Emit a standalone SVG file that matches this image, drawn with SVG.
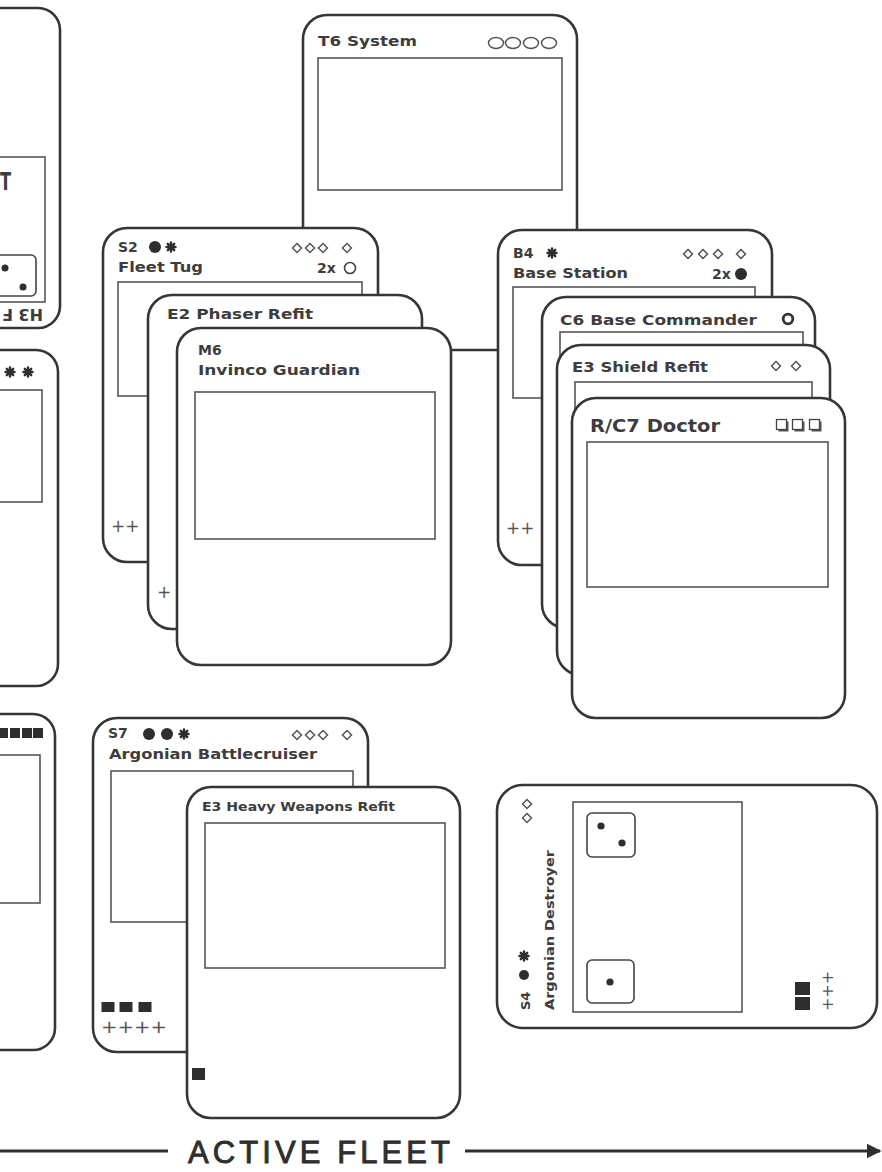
<svg xmlns="http://www.w3.org/2000/svg" width="882" height="1172" viewBox="0 0 882 1172">
<style>
.card{fill:#fff;stroke:#363636;stroke-width:2.6}
.art{fill:none;stroke:#555;stroke-width:1.6}
.t{font-family:"DejaVu Sans",sans-serif;font-weight:bold;font-size:14px;fill:#3d3d3d}
.pl{font-family:"DejaVu Sans",sans-serif;font-size:17px;fill:#555}
.ink{fill:#2e2e2e}
.dice{fill:#fff;stroke:#444;stroke-width:1.6}
</style>
<defs>
<path id="dia" d="M0,-4.5L4.5,0L0,4.5L-4.5,0Z" fill="none" stroke="#555" stroke-width="1.5"/>
<path id="star" d="M-4.5,0H4.5M0,-4.5V4.5M-3.2,-3.2L3.2,3.2M-3.2,3.2L3.2,-3.2" stroke="#2e2e2e" stroke-width="2.4" stroke-linecap="round"/>
<rect id="sq" x="-6.5" y="-5" width="13" height="10" fill="#2e2e2e"/>
<g id="osq"><rect x="-3.5" y="-3.5" width="10" height="10" fill="#555"/><rect x="-5.5" y="-5.5" width="10" height="10" fill="#fff" stroke="#444" stroke-width="1.3"/></g>
<marker id="ah" viewBox="0 0 10 10" refX="9" refY="5" markerWidth="5" markerHeight="5" orient="auto" markerUnits="strokeWidth"><path d="M0,0L10,5L0,10Z" fill="#2e2e2e"/></marker>
</defs>

<!-- left partial cards -->
<g id="card-h3">
<rect class="card" x="-200" y="8" width="260" height="320" rx="22"/>
<rect class="art" x="-60" y="157" width="105" height="145"/>
<text class="t" x="0" y="190" style="font-size:24px" textLength="11" lengthAdjust="spacingAndGlyphs">T</text>
<rect class="dice" x="-30" y="255" width="66" height="41" rx="5"/>
<circle class="ink" cx="5" cy="268" r="3.5"/>
<circle class="ink" cx="23" cy="287" r="3.5"/>
<text class="t" transform="translate(43,309) rotate(180)" style="font-size:16px">H3 F</text>
</g>
<g id="card-left-mid">
<rect class="card" x="-200" y="350" width="258" height="336" rx="22"/>
<rect class="art" x="-60" y="390" width="102" height="112"/>
<use href="#star" x="10" y="372"/>
<use href="#star" x="28" y="372"/>
</g>
<g id="card-left-low">
<rect class="card" x="-200" y="714" width="255" height="336" rx="22"/>
<rect class="art" x="-60" y="755" width="100" height="148"/>
<rect class="ink" x="-1" y="728" width="9" height="10"/>
<rect class="ink" x="10" y="728" width="10" height="10"/>
<rect class="ink" x="22" y="728" width="10" height="10"/>
<rect class="ink" x="33" y="728" width="10" height="10"/>
</g>

<!-- T6 system -->
<g id="card-t6">
<rect class="card" x="303" y="15" width="274" height="335" rx="24"/>
<rect class="art" x="318" y="58" width="244" height="132"/>
<text class="t" x="318" y="46" textLength="99" lengthAdjust="spacingAndGlyphs">T6 System</text>
<g fill="none" stroke="#555" stroke-width="1.5">
<ellipse cx="496" cy="43" rx="7.5" ry="5.5"/>
<ellipse cx="513" cy="43" rx="7.5" ry="5.5"/>
<ellipse cx="531" cy="43" rx="7.5" ry="5.5"/>
<ellipse cx="549" cy="43" rx="7.5" ry="5.5"/>
</g>
</g>

<!-- left stack -->
<g id="card-s2">
<rect class="card" x="103" y="228" width="275" height="334" rx="24"/>
<rect class="art" x="118" y="282" width="244" height="114"/>
<text class="t" x="118" y="252">S2</text>
<circle class="ink" cx="155" cy="247" r="6"/>
<use href="#star" x="171" y="247"/>
<use href="#dia" x="297" y="248"/>
<use href="#dia" x="310" y="248"/>
<use href="#dia" x="323" y="248"/>
<use href="#dia" x="347" y="248"/>
<text class="t" x="118" y="272" textLength="85" lengthAdjust="spacingAndGlyphs">Fleet Tug</text>
<text class="t" x="317" y="273">2x</text>
<circle cx="350" cy="268" r="5.5" fill="none" stroke="#444" stroke-width="1.6"/>
<text class="pl" x="111" y="532">++</text>
</g>
<g id="card-e2">
<rect class="card" x="148" y="295" width="274" height="334" rx="24"/>
<text class="t" x="167" y="319" textLength="146" lengthAdjust="spacingAndGlyphs">E2 Phaser Refit</text>
<text class="pl" x="157" y="598">+</text>
</g>
<g id="card-m6">
<rect class="card" x="177" y="328" width="274" height="337" rx="24"/>
<rect class="art" x="195" y="392" width="240" height="147"/>
<text class="t" x="198" y="355">M6</text>
<text class="t" x="198" y="375" textLength="162" lengthAdjust="spacingAndGlyphs">Invinco Guardian</text>
</g>

<!-- right stack -->
<g id="card-b4">
<rect class="card" x="498" y="230" width="274" height="335" rx="24"/>
<rect class="art" x="513" y="287" width="242" height="111"/>
<text class="t" x="513" y="258">B4</text>
<use href="#star" x="552" y="253"/>
<use href="#dia" x="688" y="254"/>
<use href="#dia" x="703" y="254"/>
<use href="#dia" x="718" y="254"/>
<use href="#dia" x="741" y="254"/>
<text class="t" x="513" y="278" textLength="115" lengthAdjust="spacingAndGlyphs">Base Station</text>
<text class="t" x="712" y="279">2x</text>
<circle class="ink" cx="741" cy="274" r="6"/>
<text class="pl" x="506" y="534">++</text>
</g>
<g id="card-c6">
<rect class="card" x="542" y="297" width="273" height="331" rx="24"/>
<rect class="art" x="560" y="332" width="243" height="100"/>
<text class="t" x="560" y="325" textLength="197" lengthAdjust="spacingAndGlyphs">C6 Base Commander</text>
<circle cx="788" cy="319" r="4.8" fill="#fff" stroke="#333" stroke-width="2.8"/>
</g>
<g id="card-e3-shield">
<rect class="card" x="557" y="345" width="273" height="330" rx="24"/>
<rect class="art" x="575" y="382" width="237" height="100"/>
<text class="t" x="572" y="372" textLength="136" lengthAdjust="spacingAndGlyphs">E3 Shield Refit</text>
<use href="#dia" x="776" y="366"/>
<use href="#dia" x="796" y="366"/>
</g>
<g id="card-rc7">
<rect class="card" x="572" y="398" width="273" height="320" rx="24"/>
<rect class="art" x="587" y="442" width="241" height="145"/>
<text class="t" x="590" y="432" style="font-size:17px" textLength="130" lengthAdjust="spacingAndGlyphs">R/C7 Doctor</text>
<use href="#osq" x="782" y="425"/>
<use href="#osq" x="798" y="425"/>
<use href="#osq" x="815" y="425"/>
</g>

<!-- bottom stack -->
<g id="card-s7">
<rect class="card" x="93" y="718" width="275" height="334" rx="24"/>
<rect class="art" x="111" y="771" width="242" height="151"/>
<text class="t" x="108" y="738">S7</text>
<circle class="ink" cx="149" cy="734" r="6"/>
<circle class="ink" cx="167" cy="734" r="6"/>
<use href="#star" x="184" y="734"/>
<use href="#dia" x="297" y="735"/>
<use href="#dia" x="310" y="735"/>
<use href="#dia" x="323" y="735"/>
<use href="#dia" x="347" y="735"/>
<text class="t" x="109" y="759" textLength="208" lengthAdjust="spacingAndGlyphs">Argonian Battlecruiser</text>
<use href="#sq" x="108" y="1007"/>
<use href="#sq" x="126" y="1007"/>
<use href="#sq" x="145" y="1007"/>
<text class="pl" x="101" y="1033" textLength="66" lengthAdjust="spacingAndGlyphs">++++</text>
</g>
<g id="card-e3-heavy">
<rect class="card" x="187" y="787" width="273" height="331" rx="24"/>
<rect class="art" x="205" y="823" width="240" height="145"/>
<text class="t" x="202" y="811" style="font-size:12px" textLength="193" lengthAdjust="spacingAndGlyphs">E3 Heavy Weapons Refit</text>
<rect class="ink" x="192" y="1068" width="13" height="12"/>
</g>

<!-- landscape card -->
<g id="card-s4">
<rect class="card" x="497" y="785" width="380" height="243" rx="26"/>
<rect class="art" x="573" y="802" width="169" height="210"/>
<rect class="dice" x="587" y="813" width="48" height="44" rx="5"/>
<circle class="ink" cx="601" cy="826" r="3.6"/>
<circle class="ink" cx="622" cy="843" r="3.6"/>
<rect class="dice" x="587" y="960" width="47" height="43" rx="5"/>
<circle class="ink" cx="610" cy="982" r="3.6"/>
<use href="#dia" x="527" y="804"/>
<use href="#dia" x="527" y="818"/>
<text class="t" transform="translate(530,1010) rotate(-90)" style="font-size:13px">S4</text>
<circle class="ink" cx="524" cy="975" r="5"/>
<use href="#star" x="524" y="956"/>
<text class="t" transform="translate(554,1010) rotate(-90)" style="font-size:13px" textLength="160" lengthAdjust="spacingAndGlyphs">Argonian Destroyer</text>
<rect class="ink" x="795" y="982" width="15" height="13"/>
<rect class="ink" x="795" y="997" width="15" height="13"/>
<text class="pl" transform="translate(833,1011) rotate(-90)" style="font-size:15px" textLength="40" lengthAdjust="spacingAndGlyphs">+++</text>
</g>

<!-- timeline arrow -->
<g id="connectors" stroke="#2e2e2e" stroke-width="3">
<line x1="0" y1="1151" x2="168" y2="1151"/>
<line x1="465" y1="1151" x2="880" y2="1151" marker-end="url(#ah)"/>
</g>
<text id="label-active-fleet" x="188" y="1163" textLength="262" lengthAdjust="spacing" style="font-family:'Liberation Sans',sans-serif;font-size:31px;fill:#2e2e2e;stroke:#2e2e2e;stroke-width:0.9">ACTIVE FLEET</text>
</svg>
